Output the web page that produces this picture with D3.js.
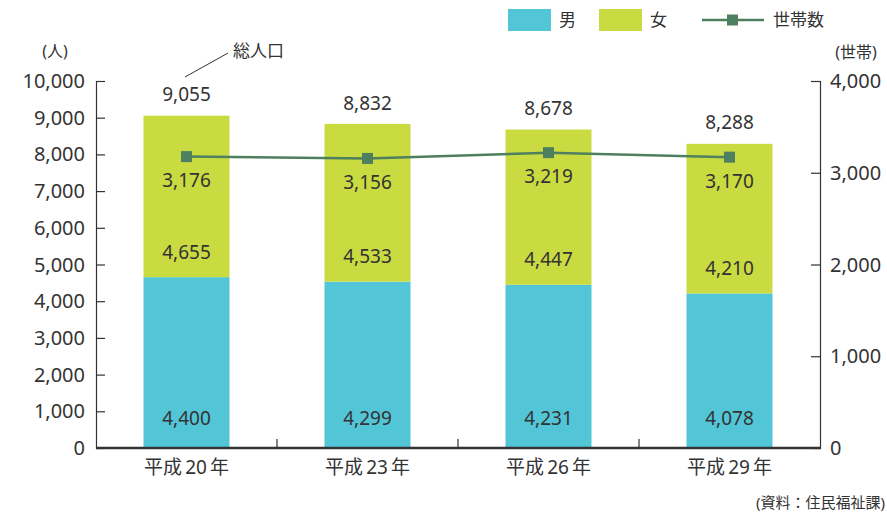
<!DOCTYPE html>
<html>
<head>
<meta charset="utf-8">
<script src="https://cdn.jsdelivr.net/npm/d3@7"></script>
<style>
  body { margin: 0; background: #fff; }
  text { font-family: "Noto Sans", "Noto Sans CJK JP", sans-serif; fill: #333; }
</style>
</head>
<body>
<script>
// Chart data
const years = ["平成20年", "平成23年", "平成26年", "平成29年"];
const male = [4400, 4299, 4231, 4078];
const female = [4655, 4533, 4447, 4210];
const total = [9055, 8832, 8678, 8288];
const households = [3176, 3156, 3219, 3170];
const leftTicks = [0, 1000, 2000, 3000, 4000, 5000, 6000, 7000, 8000, 9000, 10000];
const rightTicks = [0, 1000, 2000, 3000, 4000];

const width = 887, height = 515;
const maleColor = "#52c5d7", femaleColor = "#c9db40", lineColor = "#4e7f5f";
const fmt = d3.format(",");

const svg = d3.select("body").append("svg")
  .attr("width", width)
  .attr("height", height);

// scales
const x = d3.scaleBand().domain(years).range([96, 820]).paddingInner(0.525).paddingOuter(0.2625);
const y = d3.scaleLinear().domain([0, 10000]).range([448, 81]);
const y2 = d3.scaleLinear().domain([0, 4000]).range([448, 81]);

// in the original picture the blue (lower) segment reaches the larger of the two values
const lowerTop = years.map((d, i) => Math.max(male[i], female[i]));

// bars - male (lower)
svg.selectAll(".male").data(years).enter().append("rect")
  .attr("x", d => x(d))
  .attr("width", x.bandwidth())
  .attr("y", (d, i) => y(lowerTop[i]))
  .attr("height", (d, i) => y(0) - y(lowerTop[i]))
  .attr("fill", maleColor);

// bars - female (upper, up to total)
svg.selectAll(".female").data(years).enter().append("rect")
  .attr("x", d => x(d))
  .attr("width", x.bandwidth())
  .attr("y", (d, i) => y(total[i]))
  .attr("height", (d, i) => y(lowerTop[i]) - y(total[i]))
  .attr("fill", femaleColor);

// axes
const axisColor = "#333";
const leftAxis = svg.append("g").attr("transform", "translate(96,0)")
  .call(d3.axisRight(y).tickValues(leftTicks).tickSize(9).tickFormat(""));
const rightAxis = svg.append("g").attr("transform", "translate(820,0)")
  .call(d3.axisLeft(y2).tickValues(rightTicks).tickSize(9).tickFormat(""));
[leftAxis, rightAxis].forEach(g => {
  g.select(".domain").attr("stroke", axisColor).attr("stroke-width", 1.2);
  g.selectAll(".tick line").attr("stroke", axisColor).attr("stroke-width", 1.2);
});

// bottom axis with ticks between categories
svg.append("line").attr("x1", 96).attr("x2", 821).attr("y1", 448).attr("y2", 448)
  .attr("stroke", axisColor).attr("stroke-width", 2.5);
const step = x.step();
svg.selectAll(".ctick").data(years.slice(1)).enter().append("line")
  .attr("x1", d => x(d) - (step - x.bandwidth()) / 2)
  .attr("x2", d => x(d) - (step - x.bandwidth()) / 2)
  .attr("y1", 448).attr("y2", 439)
  .attr("stroke", axisColor).attr("stroke-width", 1.2);

// left tick labels
svg.selectAll(".ltl").data(leftTicks).enter().append("text")
  .attr("x", 85).attr("y", d => y(d))
  .attr("dy", "0.35em").attr("text-anchor", "end")
  .style("font-size", "20px")
  .text(d => fmt(d));

// right tick labels
svg.selectAll(".rtl").data(rightTicks).enter().append("text")
  .attr("x", 830).attr("y", d => y2(d))
  .attr("dy", "0.35em").attr("text-anchor", "start")
  .style("font-size", "20px")
  .text(d => fmt(d));

// category labels (平成 / number / 年 with small gaps)
const cx = d => x(d) + x.bandwidth() / 2;
svg.selectAll(".cl").data(years).enter().append("text")
  .attr("x", cx)
  .attr("y", 467).attr("dy", "0.35em")
  .attr("text-anchor", "middle")
  .style("font-size", "19px")
  .each(function(d) {
    const m = d.match(/^(\D+)(\d+)(\D+)$/);
    const t = d3.select(this);
    t.append("tspan").text(m[1]);
    t.append("tspan").attr("dx", 3).text(m[2]);
    t.append("tspan").attr("dx", 3).text(m[3]);
  });

// value labels
svg.selectAll(".ml").data(years).enter().append("text")
  .attr("x", cx).attr("y", 418).attr("dy", "0.35em")
  .attr("text-anchor", "middle").style("font-size", "19px")
  .text((d, i) => fmt(male[i]));
svg.selectAll(".fl").data(years).enter().append("text")
  .attr("x", cx).attr("y", (d, i) => y(lowerTop[i]) - 25).attr("dy", "0.35em")
  .attr("text-anchor", "middle").style("font-size", "19px")
  .text((d, i) => fmt(female[i]));
svg.selectAll(".tl").data(years).enter().append("text")
  .attr("x", cx).attr("y", (d, i) => y(total[i]) - 21).attr("dy", "0.35em")
  .attr("text-anchor", "middle").style("font-size", "19px")
  .text((d, i) => fmt(total[i]));

// household line
const line = d3.line().x((d, i) => cx(years[i])).y(d => y2(d));
svg.append("path").datum(households)
  .attr("d", line).attr("fill", "none")
  .attr("stroke", lineColor).attr("stroke-width", 2.5);
svg.selectAll(".hm").data(households).enter().append("rect")
  .attr("x", (d, i) => cx(years[i]) - 5.5)
  .attr("y", d => y2(d) - 5.5)
  .attr("width", 11).attr("height", 11)
  .attr("fill", lineColor);
svg.selectAll(".hl").data(households).enter().append("text")
  .attr("x", (d, i) => cx(years[i])).attr("y", d => y2(d) + 24).attr("dy", "0.35em")
  .attr("text-anchor", "middle").style("font-size", "19px")
  .text(d => fmt(d));

// unit labels
svg.append("text").attr("x", 55).attr("y", 51).attr("dy", "0.35em")
  .attr("text-anchor", "middle").style("font-size", "16px").text("(人)");
svg.append("text").attr("x", 856).attr("y", 52).attr("dy", "0.35em")
  .attr("text-anchor", "middle").style("font-size", "16px").text("(世帯)");

// 総人口 callout
svg.append("line").attr("x1", 185).attr("y1", 77).attr("x2", 228).attr("y2", 53)
  .attr("stroke", "#333").attr("stroke-width", 1);
svg.append("text").attr("x", 233).attr("y", 51).attr("dy", "0.35em")
  .style("font-size", "17px").text("総人口");

// legend
const legend = svg.append("g");
legend.append("rect").attr("x", 508).attr("y", 9).attr("width", 43).attr("height", 22).attr("fill", maleColor);
legend.append("text").attr("x", 559).attr("y", 20).attr("dy", "0.35em").style("font-size", "17px").text("男");
legend.append("rect").attr("x", 599).attr("y", 9).attr("width", 43).attr("height", 22).attr("fill", femaleColor);
legend.append("text").attr("x", 650).attr("y", 20).attr("dy", "0.35em").style("font-size", "17px").text("女");
legend.append("line").attr("x1", 702).attr("x2", 764).attr("y1", 20).attr("y2", 20)
  .attr("stroke", lineColor).attr("stroke-width", 2.5);
legend.append("rect").attr("x", 727).attr("y", 14.5).attr("width", 11).attr("height", 11).attr("fill", lineColor);
legend.append("text").attr("x", 773).attr("y", 20).attr("dy", "0.35em").style("font-size", "17px").text("世帯数");

// source
svg.append("text").attr("x", 885).attr("y", 503).attr("dy", "0.35em")
  .attr("text-anchor", "end").style("font-size", "15px").text("(資料：住民福祉課)");
</script>
</body>
</html>
